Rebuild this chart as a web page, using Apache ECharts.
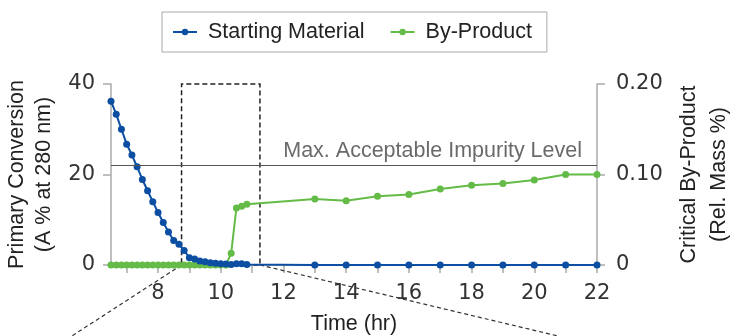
<!DOCTYPE html>
<html><head><meta charset="utf-8">
<script src="https://cdn.jsdelivr.net/npm/echarts@6/dist/echarts.min.js"></script>
<style>html,body{margin:0;padding:0;background:#fff}#c{width:730px;height:336px}</style>
</head><body><div id="c"></div>
<script>
// ---- data ----
const smTimes = [6.5, 6.667, 6.833, 7, 7.167, 7.333, 7.5, 7.667, 7.833, 8, 8.167, 8.333, 8.5, 8.667, 8.833, 9, 9.167, 9.333, 9.5, 9.667, 9.833, 10, 10.167, 10.333, 10.5, 10.667, 10.833, 13, 14, 15, 16, 17, 18, 19, 20, 21, 22];
const smValues = [36.2, 33.3, 30.0, 26.7, 24.3, 21.7, 18.9, 16.4, 14.0, 11.6, 9.4, 7.3, 5.4, 4.6, 3.2, 1.6, 1.3, 0.9, 0.7, 0.5, 0.4, 0.3, 0.2, 0.1, 0.3, 0.3, 0.1, 0, 0, 0, 0, 0, 0, 0, 0, 0, 0];
const bpTimes = [6.5, 6.667, 6.833, 7, 7.167, 7.333, 7.5, 7.667, 7.833, 8, 8.167, 8.333, 8.5, 8.667, 8.833, 9, 9.167, 9.333, 9.5, 9.667, 9.833, 10, 10.167, 10.333, 10.5, 10.667, 10.833, 13, 14, 15, 16, 17, 18, 19, 20, 21, 22];
const bpValues = [0, 0, 0, 0, 0, 0, 0, 0, 0, 0, 0, 0, 0, 0, 0, 0, 0, 0, 0, 0, 0, 0, 0, 0.013, 0.063, 0.065, 0.067, 0.073, 0.071, 0.076, 0.078, 0.084, 0.088, 0.090, 0.094, 0.100, 0.100];
const xLabelValues = [8, 10, 12, 14, 16, 18, 20, 22];
const xTickValues = [7, 8, 9, 10, 11, 12, 13, 14, 15, 16, 17, 18, 19, 20, 21, 22];
const impurityLevel = 0.11;
const zoomWindow = [8.75, 11.25];
const calloutTargets = [[5.25, -15.7], [20.76, -15.7]];

const textFont = '"Liberation Sans", Arial, sans-serif';
const numFont = '"DejaVu Sans", sans-serif';
const BLUE = '#0b4ea2';
const GREEN = '#64bb47';
const FS = 21.5;

const chart = echarts.init(document.getElementById('c'), null, {renderer: 'canvas'});
const option = {
  animation: false,
  legend: {
    data: ['Starting Material', 'By-Product'],
    left: 162, top: 12,
    padding: [9, 15, 9, 10],
    borderColor: '#aaa', borderWidth: 1,
    itemWidth: 24, itemHeight: 8, itemGap: 25,
    textStyle: {fontFamily: textFont, fontSize: FS, color: '#222', padding: [0, 0, 0, 6]}
  },
  grid: {left: 111, right: 133, top: 84, bottom: 71, outerBoundsMode: 'none', containLabel: false},
  xAxis: {
    type: 'value', min: 6.5, max: 22,
    name: 'Time (hr)', nameLocation: 'middle', nameGap: 48,
    nameTextStyle: {fontFamily: textFont, fontSize: FS, color: '#222'},
    axisLine: {show: true, lineStyle: {color: '#aaa', width: 1.5}},
    axisTick: {show: true, customValues: xTickValues, length: 8, lineStyle: {color: '#aaa', width: 1.5}},
    axisLabel: {customValues: xLabelValues, margin: 18, fontFamily: numFont, fontSize: 21, color: '#333'},
    splitLine: {show: false}
  },
  yAxis: [{
    type: 'value', min: 0, max: 40, interval: 20, position: 'left',
    name: 'Primary Conversion\n(A % at 280 nm)', nameLocation: 'middle', nameRotate: 90, nameGap: 48,
    nameTextStyle: {fontFamily: textFont, fontSize: FS, color: '#222', lineHeight: 27},
    axisLine: {show: true, lineStyle: {color: '#aaa', width: 1.5}},
    axisTick: {show: true, length: 8, lineStyle: {color: '#aaa', width: 1.5}},
    axisLabel: {margin: 16, fontFamily: numFont, fontSize: 21, color: '#333'},
    splitLine: {show: false}
  }, {
    type: 'value', min: 0, max: 0.2, interval: 0.1, position: 'right',
    name: 'Critical By-Product\n(Rel. Mass %)', nameLocation: 'middle', nameRotate: 90, nameGap: 74,
    nameTextStyle: {fontFamily: textFont, fontSize: FS, color: '#222', lineHeight: 30},
    axisLine: {show: true, lineStyle: {color: '#aaa', width: 1.5}},
    axisTick: {show: true, length: 8, lineStyle: {color: '#aaa', width: 1.5}},
    axisLabel: {margin: 19, fontFamily: numFont, fontSize: 21, color: '#333',
      formatter: v => v === 0 ? '0' : v.toFixed(2)},
    splitLine: {show: false}
  }],
  series: [{
    name: 'Starting Material', type: 'line', yAxisIndex: 0, z: 4,
    data: smTimes.map((t, i) => [t, smValues[i]]),
    symbol: 'circle', symbolSize: 7,
    itemStyle: {color: BLUE}, lineStyle: {color: BLUE, width: 2},
    markArea: {
      silent: true,
      data: [[{xAxis: zoomWindow[0], yAxis: 0}, {xAxis: zoomWindow[1], yAxis: 40}]],
      itemStyle: {color: 'rgba(0,0,0,0)', borderColor: '#222', borderWidth: 1.5, borderType: [5, 3]}
    }
  }, {
    name: 'By-Product', type: 'line', yAxisIndex: 1, z: 3,
    data: bpTimes.map((t, i) => [t, bpValues[i]]),
    symbol: 'circle', symbolSize: 7,
    itemStyle: {color: GREEN}, lineStyle: {color: GREEN, width: 2},
    markLine: {
      silent: true, symbol: 'none',
      data: [{yAxis: impurityLevel}],
      lineStyle: {color: '#555', width: 1.2, type: 'solid'},
      label: {show: true, position: 'insideEndTop', formatter: 'Max. Acceptable Impurity Level',
        color: '#6a6a6a', fontFamily: textFont, fontSize: FS, distance: [15, 3]}
    }
  }]
};
chart.setOption(option);

const c0 = chart.convertToPixel({xAxisIndex: 0, yAxisIndex: 0}, [zoomWindow[0], 0]);
const c1 = chart.convertToPixel({xAxisIndex: 0, yAxisIndex: 0}, [zoomWindow[1], 0]);
const e0 = chart.convertToPixel({xAxisIndex: 0, yAxisIndex: 0}, calloutTargets[0]);
const e1 = chart.convertToPixel({xAxisIndex: 0, yAxisIndex: 0}, calloutTargets[1]);
const dash = {stroke: '#333', lineWidth: 1.2, lineDash: [4, 3]};
chart.setOption({
  graphic: [
    {type: 'line', z: 1, shape: {x1: c0[0], y1: c0[1], x2: e0[0], y2: e0[1]}, style: dash},
    {type: 'line', z: 1, shape: {x1: c1[0], y1: c1[1], x2: e1[0], y2: e1[1]}, style: dash}
  ]
});
</script>
</body></html>
